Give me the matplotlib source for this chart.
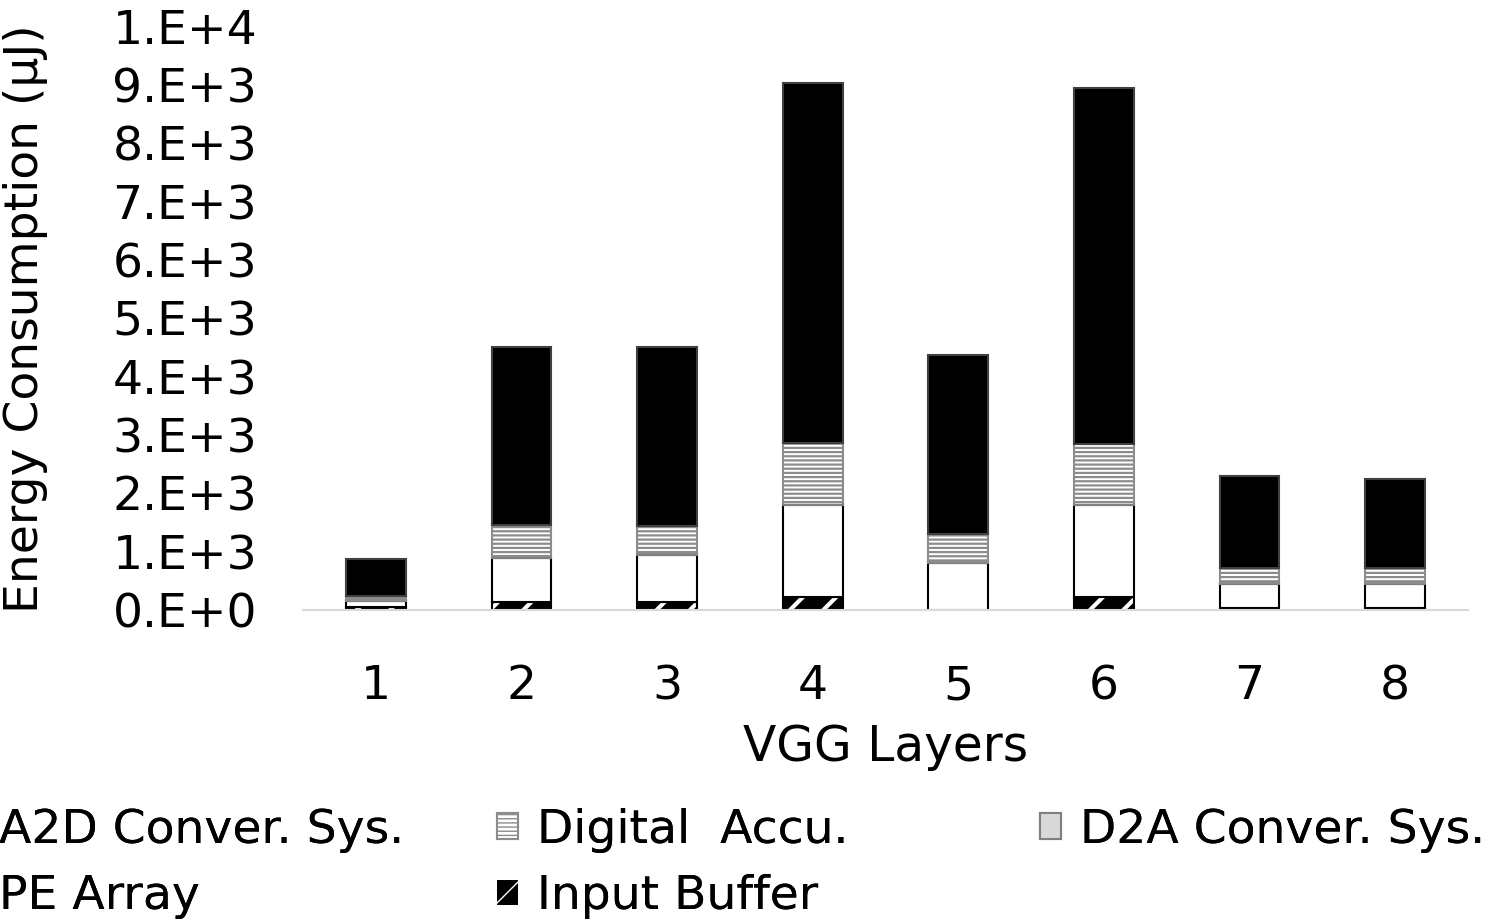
import numpy as np
import matplotlib
matplotlib.use('Agg')
import matplotlib.pyplot as plt

layers = ['1', '2', '3', '4', '5', '6', '7', '8']
input_buffer = [50, 140, 140, 225, 0, 225, 30, 30]
pe_array = [100, 760, 810, 1580, 800, 1580, 410, 410]
d2a_conv = [20, 30, 30, 40, 30, 40, 20, 20]
digital_accu = [70, 530, 470, 1020, 480, 1000, 260, 260]
a2d_conv = [630, 3050, 3060, 6175, 3060, 6100, 1580, 1530]

yticks = [0, 1000, 2000, 3000, 4000, 5000, 6000, 7000, 8000, 9000, 10000]
ytick_labels = ['0.E+0', '1.E+3', '2.E+3', '3.E+3', '4.E+3', '5.E+3',
                '6.E+3', '7.E+3', '8.E+3', '9.E+3', '1.E+4']

fs = 34
x = np.arange(1, len(layers) + 1)
w = 0.41

fig = plt.figure(figsize=(15.04, 9.23), dpi=100)
ax = fig.add_axes([0.2015, 0.339, 0.7745, 0.632])

def hatch_lw(bars, lw):
    for b in bars:
        if hasattr(b, 'set_hatch_linewidth'):
            b.set_hatch_linewidth(lw)

bottom = np.zeros(len(layers))
with plt.rc_context({'hatch.linewidth': 3.0}):
    b_in = ax.bar(x, input_buffer, w, bottom=bottom, color='black',
                  edgecolor='white', hatch='/', linewidth=0, label='Input Buffer')
hatch_lw(b_in, 3.0)
ax.bar(x, input_buffer, w, bottom=bottom, fill=False, edgecolor='black', linewidth=1.5)
bottom += input_buffer

b_pe = ax.bar(x, pe_array, w, bottom=bottom, color='white', edgecolor='black',
              linewidth=1.5, label='PE Array')
bottom += pe_array

b_d2a = ax.bar(x, d2a_conv, w, bottom=bottom, color='#d9d9d9', edgecolor='#7f7f7f',
               linewidth=1.5, label='D2A Conver. Sys.')
bottom += d2a_conv

with plt.rc_context({'hatch.linewidth': 1.6}):
    b_dig = ax.bar(x, digital_accu, w, bottom=bottom, color='white', edgecolor='#8c8c8c',
                   hatch='----', linewidth=1.5, label='Digital  Accu.')
hatch_lw(b_dig, 1.6)
bottom += digital_accu

b_a2d = ax.bar(x, a2d_conv, w, bottom=bottom, color='black', edgecolor='#404040',
               linewidth=1.5, label='A2D Conver. Sys.')

ax.set_xlim(0.5, 8.5)
ax.set_ylim(0, 10000)
ax.set_xticks(x)
ax.set_xticklabels(layers, fontsize=fs)
ax.set_yticks(yticks)
ax.set_yticklabels(ytick_labels, fontsize=fs)
ax.tick_params(axis='both', length=0)
ax.tick_params(axis='x', pad=39)
ax.tick_params(axis='y', pad=33)
for s in ['top', 'right', 'left']:
    ax.spines[s].set_visible(False)
ax.spines['bottom'].set_color('#d9d9d9')
ax.spines['bottom'].set_linewidth(1.5)

ax.set_xlabel('VGG Layers', fontsize=fs + 1, labelpad=10)
ax.set_ylabel('Energy Consumption (\u03bcJ)', fontsize=fs)
ax.yaxis.set_label_coords(-0.219, 0.5)

leg_kw = dict(loc='upper left', frameon=False, fontsize=fs, borderpad=0,
              borderaxespad=0, handlelength=0.45, handleheight=0.45,
              handletextpad=0.4, labelspacing=0.45)
cols = [([b_a2d, b_pe], -41), ([b_dig, b_in], 497), ([b_d2a], 1040)]
for handles, px in cols:
    lg = fig.legend(handles=handles, labels=[h.get_label() for h in handles],
                    bbox_to_anchor=(px / 1504, 0.1246), **leg_kw)
    fig.add_artist(lg)

fig.savefig('out.png', dpi=100)
